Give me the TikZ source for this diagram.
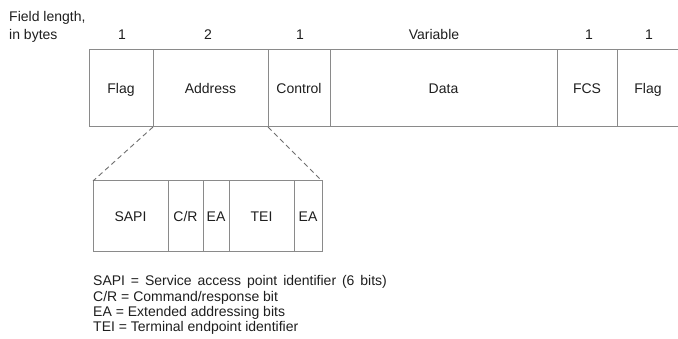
\documentclass[tikz,border=0pt]{standalone}
\usepackage{fontspec}
\setmainfont{Liberation Sans}
\definecolor{frameline}{HTML}{8A8A8A}
\definecolor{txt}{HTML}{1E1E1E}

\begin{document}
\begin{tikzpicture}[x=1pt,y=-1pt,
  field/.style={draw=frameline, line width=1pt, inner sep=0pt, outer sep=0pt,
    minimum height=77pt, text height=10pt, text depth=0pt,
    font=\fontsize{14}{15.5}\selectfont, text=txt},
  subfield/.style={field, minimum height=71pt},
  lenlabel/.style={anchor=base, inner sep=0pt, font=\fontsize{14}{15.5}\selectfont, text=txt},
  zoomline/.style={draw=frameline!80!black, line width=0.9pt, dash pattern=on 5pt off 3.5pt}]
\useasboundingbox (0,0) rectangle (678,339);

% field lengths
\node[lenlabel, anchor=base west, align=left] (lenhead) at (9,40) {Field length,\\[3pt]in bytes};
\node[lenlabel] (len1) at (122,40) {1};
\node[lenlabel] (len2) at (208,40) {2};
\node[lenlabel] (len3) at (300,40) {1};
\node[lenlabel] (len4) at (434,40) {Variable};
\node[lenlabel] (len5) at (589,40) {1};
\node[lenlabel] (len6) at (649,40) {1};

% frame
\node[field, minimum width=64pt] (flagA) at (121,88.5) {Flag};
\node[field, minimum width=115pt] (addr) at (210.5,88.5) {Address};
\node[field, minimum width=62pt] (ctrl) at (299,88.5) {Control};
\node[field, minimum width=227pt] (data) at (443.5,88.5) {Data};
\node[field, minimum width=60pt] (fcs) at (587,88.5) {FCS};
\node[field, minimum width=62pt] (flagB) at (648,88.5) {Flag};

% address field
\node[subfield, minimum width=75pt] (sapi) at (130.5,216.5) {SAPI};
\node[subfield, minimum width=35pt] (cr) at (185.5,216.5) {C/R};
\node[subfield, minimum width=26pt] (eaA) at (216,216.5) {EA};
\node[subfield, minimum width=65pt] (tei) at (261.5,216.5) {TEI};
\node[subfield, minimum width=28pt] (eaB) at (308,216.5) {EA};

\draw[zoomline] (addr.south west) -- (sapi.north west);
\draw[zoomline] (addr.south east) -- (eaB.north east);

% key
\node[lenlabel, anchor=base west, align=left] (key) at (93,332) {\spaceskip=0.42em
SAPI = Service access point identifier (6 bits)\\
C/R = Command/response bit\\
EA = Extended addressing bits\\
TEI = Terminal endpoint identifier};
\end{tikzpicture}
\end{document}
